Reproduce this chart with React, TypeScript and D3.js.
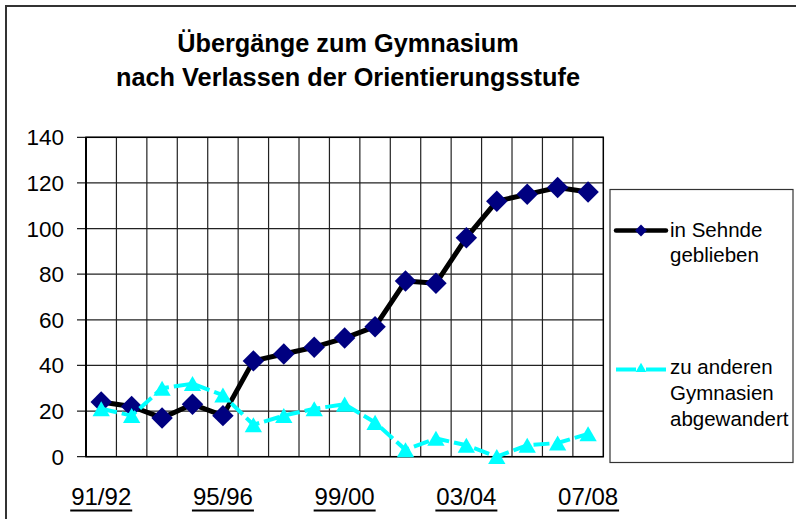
import React, { useEffect, useRef } from 'react';
import * as d3 from 'd3';

const years = [
  '91/92', '92/93', '93/94', '94/95', '95/96', '96/97', '97/98', '98/99', '99/00',
  '00/01', '01/02', '02/03', '03/04', '04/05', '05/06', '06/07', '07/08',
];
const shownYears = ['91/92', '95/96', '99/00', '03/04', '07/08'];
const inSehnde = [24, 22, 17, 23, 18, 42, 45, 48, 52, 57, 77, 76, 96, 112, 115, 118, 116];
const abgewandert = [21, 18, 30, 32, 27, 14, 18, 21, 23, 15, 3, 8, 5, 0, 5, 6, 10];
const yTicks = [0, 20, 40, 60, 80, 100, 120, 140];
const titleLines = ['Übergänge zum Gymnasium', 'nach Verlassen der Orientierungsstufe'];

const FONT = '"Liberation Sans", Arial, sans-serif';

export default function App() {
  const svgRef = useRef<SVGSVGElement>(null);

  useEffect(() => {
    if (!svgRef.current) return;
    document.body.style.margin = '0';
    const W = 796, H = 519;
    const margin = { top: 137.3, left: 86, right: 603.3, bottom: 456.7 };

    const svg = d3.select(svgRef.current);
    svg.selectAll('*').remove();
    svg.attr('width', W).attr('height', H);

    svg.append('rect').attr('width', W).attr('height', H).attr('fill', '#fff');

    // outer chart frame (cropped on right/bottom)
    svg.append('rect')
      .attr('x', 6).attr('y', 6).attr('width', W + 20).attr('height', H + 20)
      .attr('fill', 'none').attr('stroke', '#333').attr('stroke-width', 2);

    // title
    svg.append('g').selectAll('text')
      .data(titleLines)
      .enter().append('text')
      .attr('x', 348)
      .attr('y', (_, i) => 52 + i * 34)
      .attr('text-anchor', 'middle')
      .attr('font-family', FONT)
      .attr('font-weight', 'bold')
      .attr('font-size', 25.3)
      .attr('fill', '#000')
      .text(d => d);

    const x = d3.scaleBand<string>().domain(years).range([margin.left, margin.right]).padding(0);
    const y = d3.scaleLinear().domain([0, 140]).range([margin.bottom, margin.top]);
    const cx = (d: string) => (x(d) as number) + x.bandwidth() / 2;

    // horizontal grid
    svg.append('g').selectAll('line')
      .data(yTicks)
      .enter().append('line')
      .attr('x1', margin.left - 9).attr('x2', margin.right)
      .attr('y1', d => y(d)).attr('y2', d => y(d))
      .attr('stroke', '#222').attr('stroke-width', 1.2);

    // vertical grid at category boundaries
    svg.append('g').selectAll('line')
      .data(years.slice(1))
      .enter().append('line')
      .attr('x1', d => x(d) as number).attr('x2', d => x(d) as number)
      .attr('y1', margin.top).attr('y2', margin.bottom)
      .attr('stroke', '#222').attr('stroke-width', 1.2);

    // plot border
    svg.append('rect')
      .attr('x', margin.left).attr('y', margin.top)
      .attr('width', margin.right - margin.left).attr('height', margin.bottom - margin.top)
      .attr('fill', 'none').attr('stroke', '#000').attr('stroke-width', 1.5);
    svg.append('line')
      .attr('x1', margin.left).attr('x2', margin.left)
      .attr('y1', margin.top).attr('y2', margin.bottom)
      .attr('stroke', '#000').attr('stroke-width', 2);

    // y labels
    svg.append('g').selectAll('text')
      .data(yTicks)
      .enter().append('text')
      .attr('x', 64)
      .attr('y', d => y(d) + 8)
      .attr('text-anchor', 'end')
      .attr('font-family', FONT)
      .attr('font-size', 22.5)
      .attr('fill', '#000')
      .text(d => d);

    // x labels (underlined)
    const xl = svg.append('g').selectAll('g')
      .data(shownYears)
      .enter().append('g');
    xl.append('text')
      .attr('x', d => cx(d))
      .attr('y', 505)
      .attr('text-anchor', 'middle')
      .attr('font-family', FONT)
      .attr('font-size', 24)
      .attr('fill', '#000')
      .text(d => d);
    xl.append('line')
      .attr('x1', d => cx(d) - 31).attr('x2', d => cx(d) + 31)
      .attr('y1', 510.5).attr('y2', 510.5)
      .attr('stroke', '#000').attr('stroke-width', 2);

    const diamond = d3.symbol().type(d3.symbolSquare);
    const tri = d3.symbol().type(d3.symbolTriangle);

    // series 1: in Sehnde geblieben
    const line1 = d3.line<number>().x((_, i) => cx(years[i])).y(d => y(d));
    svg.append('path')
      .datum(inSehnde)
      .attr('d', line1)
      .attr('fill', 'none').attr('stroke', '#000').attr('stroke-width', 5)
      .attr('stroke-linejoin', 'round');
    svg.append('g').selectAll('path')
      .data(inSehnde)
      .enter().append('path')
      .attr('d', diamond.size(230)())
      .attr('transform', (d, i) => `translate(${cx(years[i])},${y(d)}) rotate(45)`)
      .attr('fill', '#000080');

    // series 2: zu anderen Gymnasien abgewandert
    svg.append('path')
      .datum(abgewandert)
      .attr('d', line1)
      .attr('fill', 'none').attr('stroke', '#00FFFF').attr('stroke-width', 4)
      .attr('stroke-dasharray', '16 5');
    svg.append('g').selectAll('path')
      .data(abgewandert)
      .enter().append('path')
      .attr('d', tri.size(130)())
      .attr('transform', (d, i) => `translate(${cx(years[i])},${y(d) + 2.4})`)
      .attr('fill', '#00FFFF');

    // legend
    const lg = svg.append('g');
    lg.append('rect')
      .attr('x', 610).attr('y', 189.5).attr('width', 183).attr('height', 273)
      .attr('fill', '#fff').attr('stroke', '#333').attr('stroke-width', 1.2);
    lg.append('line')
      .attr('x1', 616).attr('x2', 666).attr('y1', 230.5).attr('y2', 230.5)
      .attr('stroke', '#000').attr('stroke-width', 4.5).attr('stroke-linecap', 'round');
    lg.append('path')
      .attr('d', diamond.size(70)())
      .attr('transform', 'translate(641,230.5) rotate(45)')
      .attr('fill', '#000080');
    lg.append('line')
      .attr('x1', 616).attr('x2', 666).attr('y1', 369.5).attr('y2', 369.5)
      .attr('stroke', '#00FFFF').attr('stroke-width', 4)
      .attr('stroke-dasharray', '20 10');
    lg.append('path')
      .attr('d', tri.size(50)())
      .attr('transform', 'translate(641,369)')
      .attr('fill', '#00FFFF');

    const legendLines = [
      { t: 'in Sehnde', yy: 237 },
      { t: 'geblieben', yy: 262 },
      { t: 'zu anderen', yy: 374 },
      { t: 'Gymnasien', yy: 400 },
      { t: 'abgewandert', yy: 425.5 },
    ];
    lg.selectAll('text.leg')
      .data(legendLines)
      .enter().append('text')
      .attr('class', 'leg')
      .attr('x', 670)
      .attr('y', d => d.yy)
      .attr('font-family', FONT)
      .attr('font-size', 20.5)
      .attr('fill', '#000')
      .text(d => d.t);
  }, []);

  return (
    <svg ref={svgRef} width={796} height={519}
      style={{ position: 'absolute', left: 0, top: 0, display: 'block' }} />
  );
}
